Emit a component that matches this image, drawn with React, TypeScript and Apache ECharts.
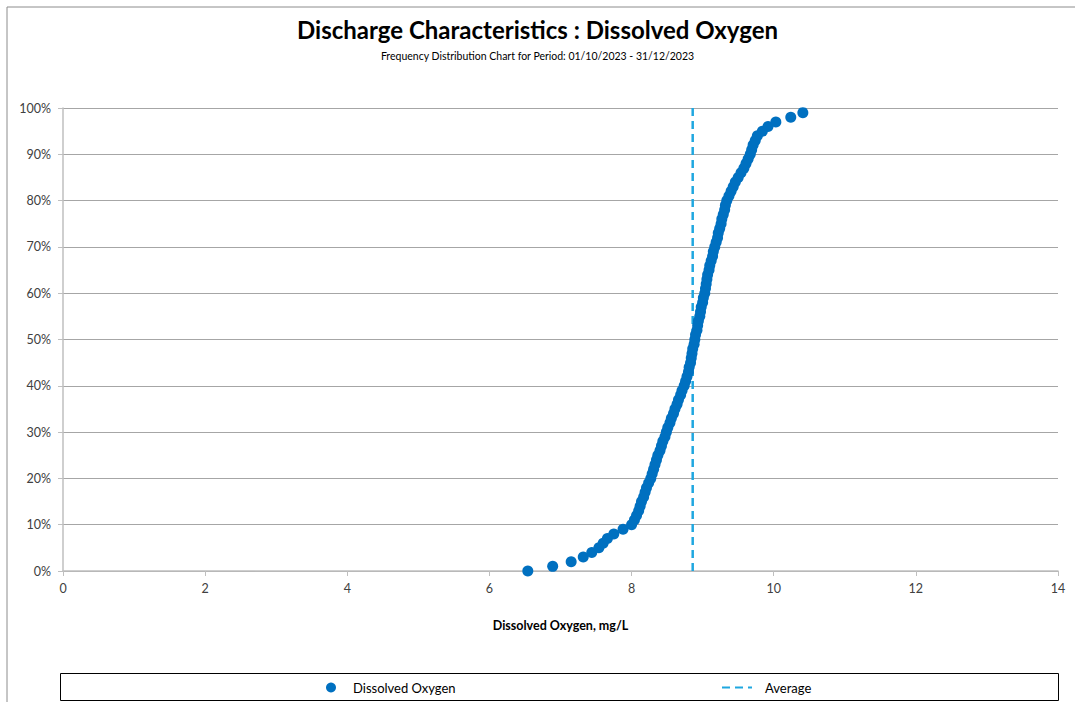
import React, { useEffect, useRef } from "react";
import * as echarts from "echarts";

const TITLE = "Discharge Characteristics : Dissolved Oxygen";
const SUBTITLE = "Frequency Distribution Chart for Period: 01/10/2023 - 31/12/2023";
const X_NAME = "Dissolved Oxygen, mg/L";
const SERIES_DO = "Dissolved Oxygen";
const SERIES_AVG = "Average";

// Cumulative frequency (%) for each sorted sample
const percentiles: number[] = Array.from({ length: 100 }, (_, i) => i);

// Dissolved oxygen values (mg/L), sorted
const doValues: number[] = [
  6.54, 6.89, 7.15, 7.32, 7.44, 7.54, 7.6, 7.66, 7.75, 7.88,
  8.0, 8.04, 8.07, 8.1, 8.12, 8.14, 8.17, 8.19, 8.21, 8.24,
  8.27, 8.29, 8.31, 8.33, 8.35, 8.37, 8.4, 8.42, 8.44, 8.47,
  8.49, 8.51, 8.54, 8.56, 8.59, 8.61, 8.64, 8.66, 8.69, 8.71,
  8.74, 8.76, 8.78, 8.8, 8.81, 8.83, 8.84, 8.85, 8.86, 8.88,
  8.89, 8.9, 8.92, 8.93, 8.94, 8.96, 8.97, 8.98, 9.0, 9.01,
  9.03, 9.04, 9.05, 9.06, 9.07, 9.09, 9.1, 9.12, 9.14, 9.15,
  9.17, 9.19, 9.21, 9.22, 9.24, 9.26, 9.27, 9.29, 9.31, 9.32,
  9.34, 9.37, 9.4, 9.43, 9.46, 9.5, 9.54, 9.58, 9.61, 9.64,
  9.67, 9.69, 9.71, 9.74, 9.77, 9.84, 9.92, 10.03, 10.24, 10.41,
];

const AVERAGE = 8.86;
const avgLine: number[][] = [
  [AVERAGE, 0],
  [AVERAGE, 100],
];

const FONT = "Lato";

export default function App() {
  const ref = useRef<HTMLDivElement>(null);

  useEffect(() => {
    if (!ref.current) return;
    const chart = echarts.init(ref.current, undefined, { renderer: "svg" });
    const scatterData = doValues.map((v, i) => [v, percentiles[i]]);
    chart.setOption({
      animation: false,
      backgroundColor: "#ffffff",
      textStyle: { fontFamily: FONT },
      title: {
        text: TITLE,
        subtext: SUBTITLE,
        left: "center",
        top: 12,
        itemGap: 9,
        textStyle: { fontFamily: FONT, fontSize: 24, fontWeight: "bold", color: "#000000" },
        subtextStyle: { fontFamily: FONT, fontSize: 10.5, color: "#000000" },
      },
      graphic: [
        {
          type: "rect",
          shape: { x: 7, y: 7, width: 1100, height: 730 },
          style: { fill: "none", stroke: "#8c8c8c", lineWidth: 1 },
          silent: true,
        },
        {
          type: "rect",
          shape: { x: 60.5, y: 673.5, width: 998, height: 27 },
          style: { fill: "none", stroke: "#000000", lineWidth: 1 },
          silent: true,
        },
      ],
      legend: [
        {
          data: [SERIES_DO],
          left: 321,
          top: 676,
          itemWidth: 30,
          itemHeight: 10,
          itemGap: 0,
          textStyle: { fontFamily: FONT, fontSize: 13, color: "#000000", padding: [0, 0, 0, 2] },
        },
        {
          data: [SERIES_AVG],
          left: 716,
          top: 676,
          itemWidth: 30,
          itemHeight: 10,
          itemStyle: { opacity: 0 },
          textStyle: { fontFamily: FONT, fontSize: 13, color: "#000000", padding: [0, 0, 0, 8] },
        },
      ],
      grid: { left: 63, right: 17, top: 108, bottom: 131 },
      xAxis: {
        type: "value",
        min: 0,
        max: 14,
        interval: 2,
        name: X_NAME,
        nameLocation: "middle",
        nameGap: 48,
        nameTextStyle: { fontFamily: FONT, fontSize: 12.5, fontWeight: "bold", color: "#000000" },
        axisLine: { show: true, lineStyle: { color: "#bfbfbf", width: 1.5 } },
        axisTick: { show: true, length: 5, lineStyle: { color: "#bfbfbf" } },
        axisLabel: { fontFamily: FONT, fontSize: 12.5, color: "#404040", margin: 11 },
        splitLine: { show: false },
      },
      yAxis: {
        type: "value",
        min: 0,
        max: 100,
        interval: 10,
        axisLine: { show: true, lineStyle: { color: "#bfbfbf", width: 1.5 } },
        axisTick: { show: true, length: 5, lineStyle: { color: "#bfbfbf" } },
        axisLabel: { fontFamily: FONT, fontSize: 12.5, color: "#404040", margin: 12, formatter: "{value}%" },
        splitLine: { show: true, lineStyle: { color: "#a6a6a6", width: 1 } },
      },
      series: [
        {
          name: SERIES_AVG,
          type: "line",
          data: avgLine,
          symbol: "none",
          z: 2,
          lineStyle: { color: "#1fa7e0", width: 2.5, type: [8, 5] },
          itemStyle: { color: "#1fa7e0" },
        },
        {
          name: SERIES_DO,
          type: "scatter",
          data: scatterData,
          symbol: "circle",
          symbolSize: 11,
          z: 3,
          itemStyle: { color: "#0070c0", opacity: 1 },
        },
      ],
    });
    return () => chart.dispose();
  }, []);

  return (
    <div
      ref={ref}
      style={{ position: "absolute", left: 0, top: 0, width: 1075, height: 702 }}
    />
  );
}
